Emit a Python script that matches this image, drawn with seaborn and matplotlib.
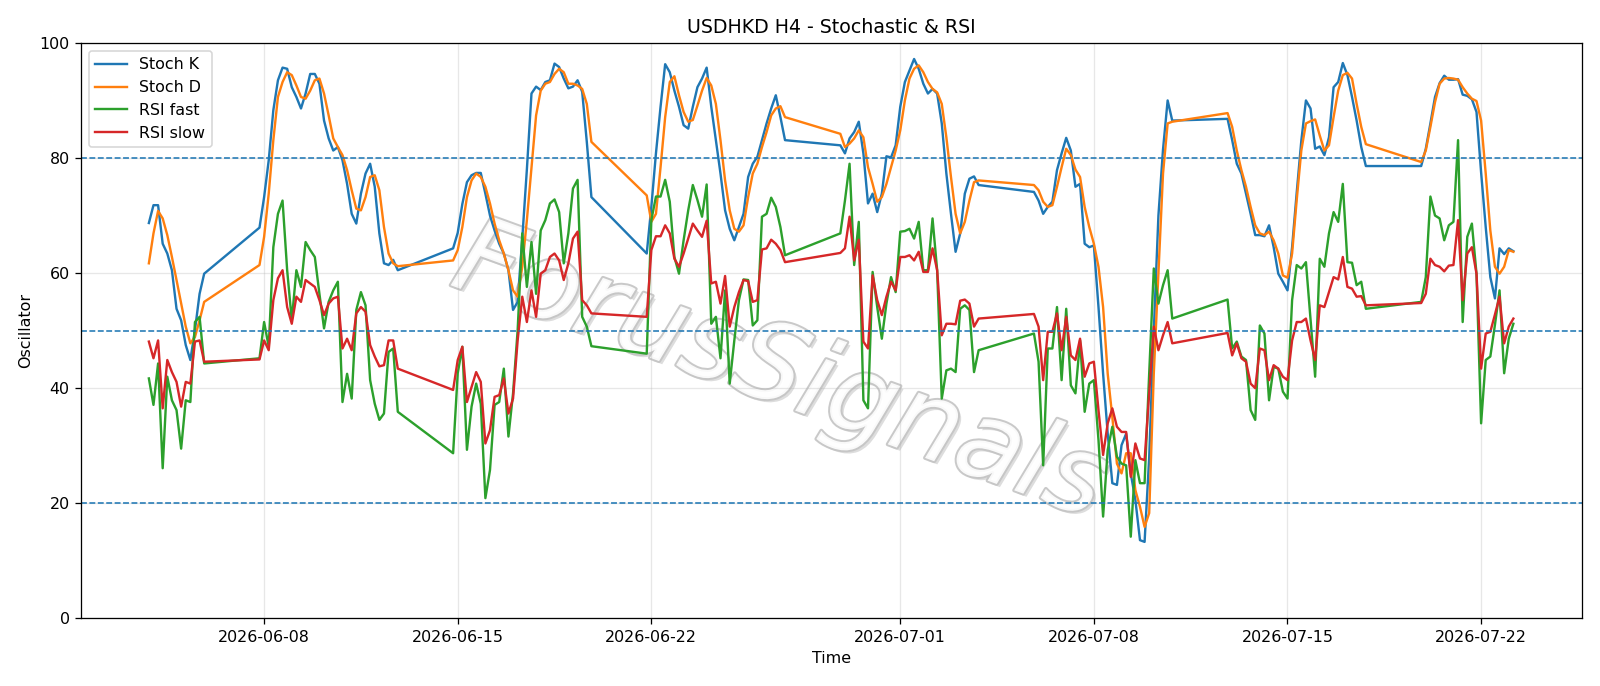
import numpy as np
import pandas as pd
import matplotlib
matplotlib.use("Agg")
import matplotlib.pyplot as plt
import matplotlib.patheffects as pe
import seaborn as sns

# ---- data (H4 bars, weekends closed) ----
stoch_k = [
    68.7, 71.8, 71.8, 65.1, 63.4, 60.5, 53.8, 51.8, 47.5, 44.9, 50.1, 56.4, 59.9,
    67.9, 73.2, 79.6, 88.3, 93.5, 95.7, 95.5, 92.3, 90.6, 88.6, 91.2, 94.6, 94.6, 92.9, 86.5, 83.4,
    81.3, 81.9, 79.6, 75.5, 70.3, 68.6, 73.8, 77.3, 79.0, 75.0, 66.9, 61.7, 61.4, 62.3, 60.5,
    64.3, 67.0, 72.0, 75.8, 77.0, 77.4, 77.4, 73.8, 70.0, 67.4, 65.1, 63.4, 60.5, 53.6, 55.0,
    66.0, 78.0, 91.2, 92.4, 91.8, 93.2, 93.5, 96.4, 95.8, 93.8, 92.1, 92.4, 93.5, 91.5, 82.8, 73.2,
    63.4, 71.5, 80.8, 88.9, 96.3, 94.9, 91.7, 88.9, 85.7, 85.1, 88.9, 92.3, 93.8, 95.7, 88.9,
    83.1, 77.3, 70.9, 67.7, 65.7, 68.0, 70.3, 76.7, 79.0, 80.2, 83.1, 86.0, 88.6, 90.9, 87.1, 83.1,
    82.2, 80.8, 83.4, 84.5, 86.3, 80.8, 72.1, 73.8, 70.6, 73.8, 80.3, 80.1, 82.2, 88.9, 93.2,
    95.2, 97.2, 95.5, 92.9, 91.2, 92.0, 91.2, 86.0, 77.3, 70.3, 63.7, 66.9, 73.8, 76.4, 76.8, 75.3,
    74.1, 72.6, 70.3, 71.5, 72.4, 77.9, 80.8, 83.5, 81.3, 75.0, 75.5, 65.1, 64.5, 64.8, 54.1,
    42.5, 32.1, 23.5, 23.2, 30.1, 32.1, 25.2, 20.6, 13.6, 13.3, 28.0, 50.0, 70.0, 81.5, 90.0, 86.5,
    86.8, 83.1, 79.0, 77.3, 73.8, 70.3, 66.6, 66.6, 66.4, 68.3, 64.5, 59.9, 58.5, 57.0, 64.5,
    74.0, 83.0, 90.0, 88.6, 81.6, 82.0, 80.5, 83.6, 92.3, 93.2, 96.5, 94.4, 90.6, 86.5, 81.9, 78.6,
    78.6, 81.6, 86.0, 90.6, 93.0, 94.3, 93.6, 93.6, 93.7, 91.0, 90.8, 90.2, 88.0, 77.5, 68.0,
    59.3, 55.6, 64.3, 63.3, 64.3, 63.8,
]
stoch_d = [
    61.7, 66.9, 70.8, 69.5, 66.6, 62.8, 58.8, 54.7, 50.7, 47.8, 48.9, 51.8, 55.0,
    61.4, 66.3, 73.8, 83.1, 90.6, 93.2, 94.9, 94.4, 92.6, 90.6, 90.3, 91.7, 93.5, 93.8, 91.2, 87.4,
    83.4, 81.9, 80.5, 77.9, 74.4, 71.2, 70.9, 73.2, 76.7, 77.0, 74.4, 68.0, 63.4, 61.7, 61.2,
    62.2, 64.0, 68.0, 73.2, 76.1, 77.3, 76.7, 75.0, 72.1, 68.6, 65.7, 63.4, 60.5, 57.0, 55.9,
    61.1, 69.2, 78.4, 87.4, 91.7, 92.9, 93.2, 94.6, 95.5, 94.9, 92.9, 92.9, 92.6, 92.0, 89.4, 82.8,
    73.5, 68.9, 70.3, 78.4, 87.1, 93.2, 94.2, 90.9, 88.0, 86.3, 86.6, 89.1, 91.7, 93.9, 92.6,
    89.4, 83.1, 76.1, 70.9, 67.7, 67.2, 68.3, 73.2, 77.3, 79.0, 81.9, 84.5, 87.4, 88.6, 89.0, 87.1,
    84.2, 81.9, 82.5, 83.4, 84.8, 83.6, 78.4, 75.5, 72.4, 73.2, 75.5, 78.4, 81.3, 84.8, 90.0,
    93.8, 95.5, 96.1, 94.9, 93.2, 92.0, 91.4, 89.4, 83.6, 76.7, 70.3, 66.9, 68.9, 72.6, 75.8, 76.1,
    75.3, 74.4, 72.4, 71.5, 71.8, 75.0, 78.4, 81.6, 80.5, 78.0, 76.7, 71.5, 68.0, 65.1, 61.1,
    54.1, 42.5, 35.0, 26.9, 25.2, 28.7, 28.7, 22.3, 19.4, 15.9, 18.3, 42.6, 59.9, 77.3, 86.0, 86.3,
    87.8, 85.4, 81.3, 77.9, 75.0, 71.5, 68.3, 66.9, 66.6, 67.2, 65.7, 63.4, 59.6, 59.2, 63.4,
    72.7, 81.3, 86.0, 86.4, 86.7, 83.9, 81.3, 82.2, 87.1, 91.7, 94.4, 94.8, 93.8, 89.4, 85.4, 82.4,
    79.3, 81.3, 85.4, 89.7, 92.9, 93.8, 93.9, 93.8, 93.6, 92.3, 91.2, 90.3, 89.9, 86.5, 77.3,
    67.4, 61.1, 59.9, 61.1, 64.0, 63.7,
]
rsi_fast = [
    41.7, 37.1, 44.3, 26.1, 42.0, 37.9, 36.2, 29.5, 37.9, 37.6, 51.5, 52.4, 44.3,
    45.2, 51.5, 47.2, 64.5, 70.3, 72.6, 60.5, 51.8, 60.5, 57.6, 65.4, 64.0, 62.8, 56.4, 50.4,
    55.0, 57.0, 58.5, 37.6, 42.5, 38.2, 53.6, 56.7, 54.4, 41.4, 37.3, 34.5, 35.6, 46.3, 46.9, 35.9,
    28.7, 42.6, 47.2, 29.3, 36.8, 40.8, 37.3, 20.9, 25.8, 37.1, 37.6, 43.4, 31.6, 39.1, 50.1,
    66.9, 57.6, 65.4, 56.4, 67.4, 69.2, 72.1, 72.8, 70.6, 61.7, 66.9, 74.7, 76.2, 52.4, 50.7, 47.3,
    46.0, 69.2, 73.3, 73.3, 76.2, 72.4, 62.8, 59.9, 65.7, 70.9, 75.3, 72.7, 69.8, 75.4, 51.2,
    52.4, 45.2, 57.0, 40.8, 48.3, 55.3, 58.9, 58.8, 50.9, 51.8, 69.8, 70.3, 73.1, 71.5, 68.0, 63.1,
    66.9, 72.6, 79.0, 61.4, 68.9, 37.9, 36.5, 60.2, 54.1, 48.6, 54.7, 59.3, 56.7, 67.2, 67.3,
    67.7, 66.0, 68.9, 60.5, 60.5, 69.5, 60.5, 38.2, 43.1, 43.4, 42.8, 53.8, 54.4, 53.6, 42.8, 46.6,
    49.5, 44.6, 26.6, 46.9, 46.9, 54.1, 41.4, 53.8, 40.5, 39.1, 48.3, 35.9, 40.8, 41.4, 31.0,
    17.7, 29.3, 33.3, 28.1, 26.9, 26.6, 14.2, 27.5, 23.5, 23.5, 42.6, 60.8, 54.7, 57.9, 60.5, 52.1,
    55.4, 46.9, 48.1, 45.5, 44.9, 36.2, 34.5, 50.9, 49.5, 37.9, 43.7, 43.4, 39.4, 38.2, 55.3,
    61.4, 60.8, 61.9, 52.0, 42.0, 62.5, 61.1, 66.9, 70.6, 68.9, 75.5, 61.9, 61.8, 57.9, 58.5, 53.8,
    55.0, 59.3, 73.3, 70.0, 69.5, 65.7, 68.3, 68.9, 83.1, 51.5, 66.3, 68.6, 59.9, 33.9, 44.9,
    45.5, 51.0, 57.0, 42.6, 48.6, 51.2,
]
rsi_slow = [
    48.1, 45.2, 48.3, 36.5, 44.9, 42.8, 41.1, 36.8, 41.1, 40.8, 48.1, 48.3, 44.6,
    45.0, 48.3, 46.6, 55.3, 59.1, 60.5, 54.1, 51.2, 55.9, 55.0, 58.8, 58.2, 57.6, 55.3, 52.7,
    54.7, 55.6, 55.9, 46.9, 48.6, 46.6, 53.0, 54.1, 53.3, 47.5, 45.5, 43.8, 44.0, 48.3, 48.3, 43.4,
    39.7, 44.9, 47.2, 37.6, 40.2, 42.8, 41.1, 30.4, 32.7, 38.5, 38.8, 41.7, 35.6, 38.2, 48.3,
    55.9, 51.5, 57.0, 52.4, 59.9, 60.5, 62.8, 63.4, 62.2, 58.8, 61.7, 66.0, 67.2, 55.3, 54.4, 53.0,
    52.4, 64.0, 66.4, 66.4, 68.3, 66.9, 62.5, 61.1, 63.4, 66.0, 68.6, 67.4, 66.3, 69.1, 58.2,
    58.5, 54.7, 59.5, 50.7, 54.1, 56.7, 58.8, 58.6, 55.0, 55.3, 64.1, 64.3, 65.8, 65.1, 64.0, 61.9,
    63.5, 64.3, 69.8, 62.2, 65.8, 48.1, 46.9, 59.6, 55.3, 52.7, 55.9, 58.5, 57.0, 62.8, 62.8,
    63.1, 62.2, 63.7, 60.2, 60.2, 64.3, 60.5, 49.2, 51.2, 51.2, 51.1, 55.2, 55.4, 54.7, 50.7, 52.1,
    52.9, 50.7, 41.4, 49.8, 49.8, 53.0, 46.6, 52.4, 45.7, 44.9, 48.6, 42.0, 44.3, 44.6, 36.2,
    28.4, 33.9, 36.5, 33.3, 32.4, 32.4, 24.6, 30.4, 27.8, 27.5, 39.1, 50.7, 46.6, 49.2, 51.5, 47.8,
    49.6, 45.7, 47.8, 45.2, 44.6, 40.8, 40.0, 46.9, 46.6, 41.4, 44.0, 43.4, 42.0, 41.4, 48.3,
    51.5, 51.5, 52.1, 48.3, 44.9, 54.4, 54.1, 56.7, 59.3, 58.9, 62.8, 57.6, 57.3, 55.9, 56.0, 54.4,
    54.8, 56.4, 62.5, 61.4, 61.1, 60.3, 61.3, 61.4, 69.2, 55.3, 63.4, 64.5, 59.9, 43.4, 49.5,
    49.8, 52.8, 55.9, 47.8, 50.7, 52.1,
]
levels = [20, 50, 80]
series_names = ["Stoch K", "Stoch D", "RSI fast", "RSI slow"]

# ---- H4 timestamps without the weekend closure ----
rng = pd.date_range("2026-06-03 20:00", "2026-07-23 04:00", freq="4h")
keep = ~((rng.dayofweek == 5) | ((rng.dayofweek == 6) & (rng.hour < 20)))
times = rng[keep]
n = min(len(times), len(stoch_k), len(stoch_d), len(rsi_fast), len(rsi_slow))
times = times[:n]

df = pd.DataFrame({
    "Time": times,
    "Stoch K": stoch_k[:n],
    "Stoch D": stoch_d[:n],
    "RSI fast": rsi_fast[:n],
    "RSI slow": rsi_slow[:n],
})

dpi = 114.3
fig, ax = plt.subplots(figsize=(1600 / dpi, 686 / dpi), dpi=dpi)
fig.subplots_adjust(left=0.0504, right=0.9885, top=0.9375, bottom=0.0985)

colors = ["#1f77b4", "#ff7f0e", "#2ca02c", "#d62728"]
for name, c in zip(series_names, colors):
    sns.lineplot(data=df, x="Time", y=name, ax=ax, color=c, label=name, lw=1.5)

for lv in levels:
    ax.axhline(lv, color="#1f77b4", linestyle="--", lw=1.0)

ax.set_ylim(0, 100)
ax.set_yticks([0, 20, 40, 60, 80, 100])
ax.grid(True, color="#b0b0b0", alpha=0.3, lw=0.8)
ax.set_title("USDHKD H4 - Stochastic & RSI")
ax.set_xlabel("Time")
ax.set_ylabel("Oscillator")
ax.legend(loc="upper left")

ax.text(0.466, 0.427, "ForusSignals", transform=ax.transAxes, fontsize=68,
        style="italic", rotation=-20, ha="center", va="center", color="white",
        alpha=0.9, zorder=0.5,
        path_effects=[pe.withSimplePatchShadow(offset=(2, -2), shadow_rgbFace="#9e9e9e", alpha=0.35),
                      pe.withStroke(linewidth=2.5, foreground="#c4c4c4")])

fig.savefig("out.png", dpi=dpi)
